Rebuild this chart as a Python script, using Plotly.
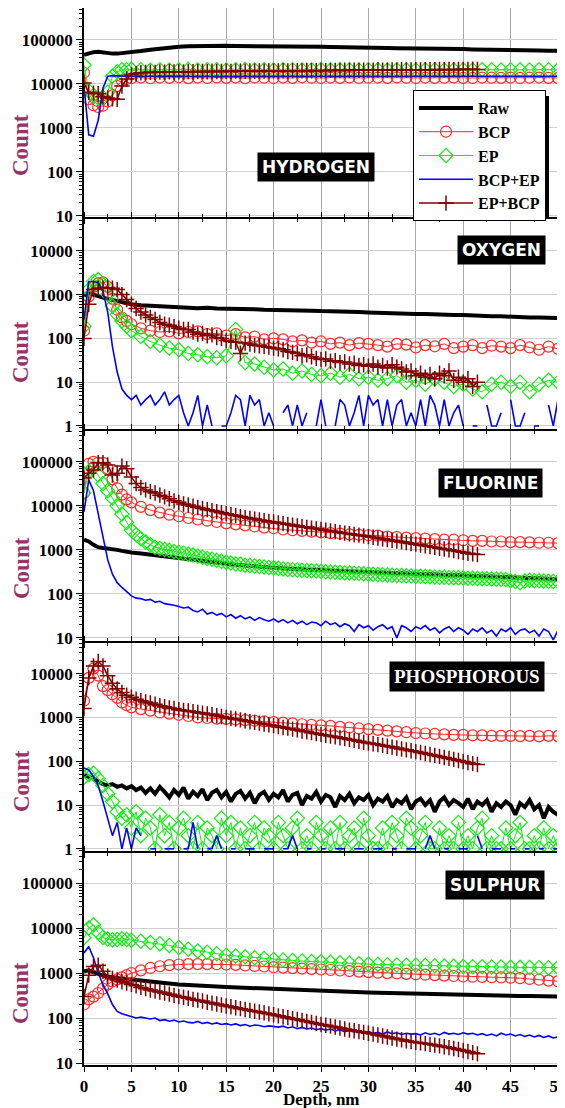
import plotly.graph_objects as go

# ---------------- depth grids (nm) ----------------
D_STD = [0, 0.5, 1, 1.5, 2, 2.5, 3, 3.5, 4, 4.5] + list(range(5, 51))
D_FINE = [i * 0.5 for i in range(101)]
D_EPB = [i * 0.5 for i in range(84)]

# ---------------- HYDROGEN ----------------
H_RAW = [46000, 50000, 53000, 54000, 52000, 50000, 49000, 49000, 50000, 51000,
         53000, 56000, 60000, 64000, 67000, 70000, 72000, 73000, 74000, 74000,
         74000, 73000, 73000, 72000, 72000, 72000, 71000, 71000, 70000, 70000,
         70000, 69000, 69000, 68000, 68000, 67000, 66000, 66000, 65000, 65000,
         64000, 64000, 63000, 63000, 62000, 62000, 61000, 61000, 60000, 60000,
         59000, 59000, 58000, 58000, 57000, 57000]
H_BCP = [18000, 4500, 3300, 3000, 3200, 4000, 5500, 9000, 12000, 13000,
         13500, 14000, 13500, 14000, 13800, 14200, 13600, 14000, 13700, 14100,
         13800, 14000, 13600, 14100, 13900, 13700, 14000, 13800, 14200, 13900,
         13700, 14000, 13800, 14100, 13700, 13900, 14000, 13800, 14100, 13900,
         13700, 14000, 13800, 13900, 14100, 13800, 13700, 14000, 13900, 13800,
         14000, 13700, 13900, 14000, 13800, 13700]
H_EP = [27000, 7000, 5500, 4800, 5000, 6500, 15000, 19000, 21000, 21000,
        21500, 21000, 20500, 21200, 20800, 21000, 21400, 20700, 21000, 21200,
        20800, 21000, 21300, 20900, 21100, 20800, 21000, 21200, 20900, 21000,
        21300, 20800, 21000, 21100, 20900, 21200, 21000, 20800, 21100, 21000,
        20900, 21200, 21000, 20800, 21100, 21000, 20900, 21200, 21000, 20800,
        21100, 21000, 20900, 21200, 21000, 21000]
H_BCPEP = [9000, 700, 650, 1500, 8000, 15000, 15500, 15200, 15000, 15000,
           15000, 15100, 15000, 14900, 15000, 15100, 15000, 14900, 15000, 15000,
           15100, 15000, 14900, 15000, 15000, 15100, 15000, 14900, 15000, 15000,
           15100, 15000, 14900, 15000, 15000, 15100, 15000, 14900, 15000, 15000,
           15100, 15000, 14900, 15000, 15000, 15100, 15000, 14900, 15000, 15000,
           15100, 15000, 14900, 15000, 15000, 15000]
H_EPBCP = [10500, 6500, 6200, 6000, 5200, 4800, 4600, 4500, 9000, 13000,
           16000, 17000, 18000, 18200, 18500, 18300, 18700, 18500, 18900, 18800,
           19000, 18800, 19200, 19000, 19100, 19300, 19000, 19400, 19200, 19300,
           19500, 19300, 19600, 19400, 19500, 19700, 19500, 19800, 19600, 19700,
           19900, 19700, 20000, 19800, 19900, 20100, 19900, 20200, 20000, 20100,
           20300, 20100, 20400, 20200, 20300, 20500, 20300, 20600, 20400, 20500,
           20700, 20500, 20800, 20600, 20700, 20900, 20700, 21000, 20800, 20900,
           21100, 20900, 21200, 21000, 21100, 21300, 21100, 21400, 21200, 21300,
           21500, 21300, 21600, 21400]

# ---------------- OXYGEN ----------------
O_RAW = [950, 1050, 1000, 900, 850, 800, 750, 700, 650, 620,
         600, 570, 550, 540, 520, 510, 500, 490, 500, 480,
         480, 470, 470, 460, 450, 450, 440, 440, 430, 430,
         420, 420, 410, 400, 400, 390, 380, 380, 370, 370,
         360, 360, 350, 350, 340, 340, 330, 330, 320, 320,
         310, 310, 300, 300, 290, 290]
O_BCP = [150, 900, 1500, 1800, 1900, 1500, 800, 450, 300, 250,
         210, 170, 150, 140, 145, 130, 140, 145, 125, 130,
         115, 125, 105, 110, 95, 100, 95, 85, 90, 80,
         85, 75, 80, 70, 78, 75, 70, 65, 75, 72,
         62, 70, 66, 75, 60, 65, 70, 60, 68, 65,
         60, 70, 62, 55, 65, 58]
O_EP = [190, 1300, 2000, 2200, 1700, 1000, 550, 350, 250, 190,
        150, 110, 85, 70, 60, 55, 45, 42, 38, 36,
        40, 160, 28, 26, 22, 19, 20, 16, 18, 15,
        14, 16, 13, 15, 12, 13, 11, 12, 14, 10,
        11, 9, 12, 10, 8, 9, 7, 6, 9, 10,
        8, 10, 6, 9, 11, 10]
O_BCPEP = [270, 2000, 2000, 1900, 1200, 400, 65, 17, 7, 5,
           4, 5, 3, 4, 5, 3, 4, 6, 3, 4,
           5, 2, 1, 2, 5, 1, 3, 1, None, 1,
           1, 2, 5, 4, 1, 5, 3, 4, 1, 2,
           1, None, 2, 3, 1, 3, 1, 2, None, 1,
           4, 1, None, 1, 4, 3, 1, 2, 5, 1,
           5, 3, 4, 1, 4, 1, 3, 4, 1, 2,
           1, 4, 1, 5, 3, 1, 4, 1, 2, 3,
           1, None, 1, 1, None, 3, 1, 1, 2, None,
           4, 1, 1, 2, None, 1, 1, None, 3, 1,
           4]
O_EPBCP = [100, 600, 1300, 1400, 1400, 1450, 1400, 1300, 1000, 770,
           600, 480, 400, 340, 300, 270, 230, 210, 200, 185,
           170, 160, 160, 140, 125, 130, 115, 120, 105, 100,
           90, 85, 82, 45, 78, 74, 70, 68, 65, 63,
           60, 58, 55, 50, 48, 45, 40, 42, 38, 35,
           33, 34, 30, 31, 28, 29, 26, 27, 24, 25,
           23, 26, 22, 24, 21, 25, 22, 20, 17, 18,
           14, 16, 13, 15, 12, 16, 14, 18, 11, 13,
           10, 12, 8, 10]

# ---------------- FLUORINE ----------------
F_RAW = [1700, 1550, 1300, 1150, 1100, 1080, 1050, 1000, 950, 900,
         870, 830, 780, 730, 690, 640, 600, 560, 530, 500,
         480, 460, 440, 420, 400, 390, 380, 370, 360, 350,
         340, 335, 330, 325, 320, 315, 310, 305, 300, 295,
         290, 285, 280, 275, 270, 265, 260, 255, 250, 245,
         240, 235, 230, 225, 220, 215]
F_BCP = [19700, 90000, 100000, 95000, 95000, 70000, 40000, 25000, 18000, 14000,
         12000, 9500, 8000, 7000, 6300, 5800, 5300, 4900, 4600, 4300,
         4000, 3800, 3600, 3400, 3200, 3100, 2900, 2800, 2700, 2600,
         2500, 2400, 2350, 2250, 2200, 2150, 2100, 2000, 1950, 1900,
         1850, 1800, 1750, 1700, 1700, 1650, 1600, 1600, 1550, 1550,
         1500, 1500, 1480, 1450, 1450, 1420]
F_EP = [19700, 60000, 73000, 50000, 32000, 22000, 15000, 10000, 6500, 4200,
        2800, 2200, 1800, 1500, 1300, 1150, 1080, 1020, 980, 920,
        880, 840, 800, 760, 720, 680, 640, 610, 580, 550,
        520, 500, 480, 470, 450, 440, 430, 420, 410, 400,
        390, 380, 370, 360, 355, 350, 345, 340, 335, 330,
        325, 320, 315, 310, 305, 300, 298, 295, 290, 285,
        282, 278, 275, 272, 268, 265, 262, 260, 257, 255,
        252, 250, 247, 245, 243, 240, 238, 236, 234, 232,
        230, 228, 226, 224, 222, 220, 218, 216, 214, 212,
        200, 190, 180, 195, 205, 200, 198, 196, 194, 192,
        190]
F_BCPEP = [7300, 39000, 22000, 7000, 2000, 600, 280, 180, 140, 110,
           90, 80, 78, 72, 75, 65, 68, 60, 58, 55,
           52, 48, 50, 42, 39, 45, 35, 38, 33, 36,
           30, 34, 28, 32, 27, 30, 25, 29, 26, 24,
           27, 23, 26, 22, 25, 21, 24, 20, 23, 22,
           19, 24, 20, 22, 18, 21, 19, 14, 20, 17,
           19, 15, 18, 20, 16, 18, 10, 19, 17, 14,
           18, 16, 19, 15, 17, 13, 16, 18, 14, 17,
           15, 12, 16, 14, 17, 13, 15, 11, 16, 14,
           17, 12, 15, 16, 13, 15, 11, 16, 14, 9,
           15]
F_EPBCP = [43000, 55000, 65000, 95000, 95000, 85000, 50000, 55000, 80000, 70000,
           45000, 32000, 26000, 23000, 21000, 19500, 17500, 16000, 14500, 13000,
           12000, 11000, 10500, 9800, 9200, 8700, 8200, 7800, 7400, 7000,
           6600, 6300, 6000, 5700, 5400, 5200, 5000, 4800, 4600, 4400,
           4300, 4100, 3950, 3800, 3650, 3500, 3350, 3250, 3100, 3000,
           2900, 2800, 2700, 2600, 2500, 2400, 2320, 2240, 2160, 2080,
           2000, 1930, 1850, 1780, 1710, 1650, 1580, 1520, 1460, 1400,
           1350, 1290, 1240, 1190, 1140, 1090, 1050, 1000, 960, 920,
           880, 840, 810, 780]

# ---------------- PHOSPHOROUS ----------------
P_RAW = [48, 45, 40, 35, 30, 28, 30, 26, 28, 24,
         27, 22, 25, 19, 24, 18, 26, 20, 15, 22,
         17, 25, 14, 20, 16, 23, 13, 19, 22, 15,
         20, 12, 18, 21, 14, 19, 11, 17, 20, 13,
         18, 15, 22, 12, 17, 19, 10, 16, 14, 20,
         12, 17, 15, 9, 16, 13, 18, 11, 15, 13,
         17, 10, 14, 12, 16, 9, 13, 11, 15, 8,
         12, 14, 10, 13, 7, 12, 15, 10, 13, 11,
         9, 14, 8, 12, 10, 13, 7, 11, 9, 12,
         10, 6, 11, 9, 13, 8, 10, 5, 9, 7,
         6]
P_BCP = [2400, 8000, 13000, 9000, 5200, 4200, 3400, 2800, 2200, 1900,
         1700, 1550, 1430, 1300, 1220, 1150, 1080, 1000, 970, 940,
         930, 900, 870, 840, 810, 780, 760, 730, 700, 680,
         660, 640, 610, 590, 560, 540, 520, 500, 480, 460,
         440, 430, 420, 410, 400, 400, 390, 390, 380, 380,
         380, 375, 380, 370, 380, 375]
P_EP = [43, 50, 53, 40, 28, 18, 12, 7, 5, 6,
        3, 7, 2, 5, 3, 1, 6, 2, 4, 1,
        3, 5, 2, 1, 4, 1, 3, 2, 1, 5,
        2, 4, 1, 3, 1, 2, 4, 1, 3, 2,
        1, 4, 2, 1, 3, 5, 1, 2, 1, 4,
        2, 1, 3, 1, 4, 1, 2, 3, 1, 5,
        2, 1, 1, 3, 1, 4, 2, 1, 5, 3,
        1, 2, 4, 1, 1, 3, 1, 2, 1, 4,
        1, 2, 1, 3, 5, 1, 2, 1, 1, 3,
        1, 2, 4, 1, 1, 2, 1, 3, 1, 2,
        1]
P_BCPEP = [70, 63, 45, 28, 12, 5, 2, 4, 1, 3,
           1, 3, 2, None, 1, 1, None, 1, 1, 1,
           None, 1, 1, 4, 1, None, 1, 1, 2, 1,
           None, 1, 1, None, 1, 1, 1, None, 1, 1,
           1, None, 1, 1, 2, 1, None, 1, 1, None,
           1, 1, None, 1, 1, 1, None, 1, 1, 1,
           None, 1, 1, 1, None, 1, 1, None, 1, 1,
           1, None, 1, 2, 1, None, 1, 1, None, 1,
           1, 1, None, 2, 1, None, 1, 1, 1, None,
           1, 1, None, 1, 1, None, 1, 1, None, 1,
           1]
P_EPBCP = [1600, 8000, 15000, 19000, 15000, 9000, 6000, 4500, 3700, 3200,
           2900, 2600, 2400, 2250, 2150, 2000, 1850, 1750, 1650, 1600,
           1500, 1450, 1400, 1350, 1300, 1250, 1200, 1150, 1100, 1050,
           1000, 960, 920, 880, 840, 800, 770, 740, 710, 680,
           650, 620, 590, 570, 540, 520, 490, 470, 450, 430,
           410, 390, 375, 360, 345, 330, 315, 300, 285, 270,
           260, 250, 240, 230, 220, 210, 200, 190, 182, 174,
           166, 158, 150, 143, 136, 129, 122, 116, 110, 104,
           98, 93, 88, 84]

# ---------------- SULPHUR ----------------
S_RAW = [1100, 1150, 1050, 950, 880, 840, 800, 760, 740, 720,
         720, 680, 640, 600, 580, 560, 540, 520, 510, 500,
         490, 480, 470, 460, 450, 440, 430, 420, 410, 400,
         395, 390, 385, 380, 375, 370, 365, 360, 355, 350,
         350, 345, 340, 340, 335, 335, 330, 325, 320, 320,
         315, 310, 310, 305, 300, 300]
S_BCP = [200, 260, 300, 360, 450, 560, 650, 720, 800, 900,
         1000, 1150, 1300, 1420, 1500, 1550, 1580, 1580, 1580, 1570,
         1550, 1520, 1480, 1440, 1400, 1350, 1320, 1290, 1260, 1230,
         1200, 1170, 1140, 1110, 1080, 1050, 1020, 1000, 980, 960,
         940, 920, 900, 880, 860, 840, 830, 820, 810, 800,
         790, 770, 740, 710, 680, 660]
S_EP = [6100, 10000, 11800, 8000, 6200, 5700, 5500, 5600, 5800, 5600,
        5400, 5100, 4800, 4500, 4100, 3700, 3400, 3100, 2900, 2700,
        2500, 2400, 2300, 2200, 2100, 2000, 1950, 1900, 1850, 1800,
        1780, 1740, 1700, 1660, 1620, 1580, 1560, 1540, 1520, 1500,
        1500, 1480, 1460, 1440, 1420, 1400, 1390, 1380, 1370, 1360,
        1350, 1340, 1330, 1320, 1310, 1330]
S_BCPEP = [2800, 3900, 2200, 1000, 550, 350, 200, 140, 125, 115,
           110, 100, 105, 98, 95, 100, 88, 92, 85, 90,
           82, 86, 80, 78, 84, 76, 80, 74, 78, 72,
           75, 70, 74, 68, 72, 66, 70, 68, 64, 67,
           65, 63, 66, 60, 64, 58, 62, 57, 60, 55,
           58, 54, 57, 52, 55, 50, 53, 49, 52, 47,
           50, 46, 48, 44, 49, 45, 47, 43, 46, 44,
           45, 42, 47, 43, 46, 42, 48, 44, 46, 43,
           47, 44, 46, 42, 45, 41, 44, 40, 46, 42,
           44, 40, 43, 39, 42, 38, 41, 37, 40, 36,
           38]
S_EPBCP = [300, 900, 1400, 1500, 1100, 850, 760, 700, 640, 600,
           560, 520, 480, 450, 420, 400, 380, 360, 340, 320,
           300, 290, 275, 260, 250, 240, 225, 215, 205, 195,
           185, 178, 170, 162, 155, 148, 142, 136, 130, 124,
           118, 112, 107, 102, 97, 93, 88, 84, 80, 76,
           72, 69, 66, 63, 60, 57, 54, 52, 50, 48,
           46, 44, 42, 40, 38, 36, 34, 33, 31, 30,
           29, 28, 27, 26, 25, 24, 23, 22, 21, 20,
           19, 18, 17, 16]

ELEMENTS = ["HYDROGEN", "OXYGEN", "FLUORINE", "PHOSPHOROUS", "SULPHUR"]
SERIES_NAMES = ["Raw", "BCP", "EP", "BCP+EP", "EP+BCP"]
X_TICKS = [0, 5, 10, 15, 20, 25, 30, 35, 40, 45, 50]

PANEL_DATA = [
    [(D_STD, H_RAW), (D_STD, H_BCP), (D_STD, H_EP), (D_STD, H_BCPEP), (D_EPB, H_EPBCP)],
    [(D_STD, O_RAW), (D_STD, O_BCP), (D_STD, O_EP), (D_FINE, O_BCPEP), (D_EPB, O_EPBCP)],
    [(D_STD, F_RAW), (D_STD, F_BCP), (D_FINE, F_EP), (D_FINE, F_BCPEP), (D_EPB, F_EPBCP)],
    [(D_FINE, P_RAW), (D_STD, P_BCP), (D_FINE, P_EP), (D_FINE, P_BCPEP), (D_EPB, P_EPBCP)],
    [(D_STD, S_RAW), (D_STD, S_BCP), (D_STD, S_EP), (D_FINE, S_BCPEP), (D_EPB, S_EPBCP)],
]

# ---------------- layout geometry ----------------
# The page body adds an 8px offset, so the figure is 8px smaller and all
# positions below are given in window pixels and shifted by OFF.
OFF = 8
W, H = 565 - OFF, 1108 - OFF
ML, MR, MT, MB = 84 - OFF, 7, 8 - OFF, 43
PW, PH = W - ML - MR, H - MT - MB


def ppy(p):
    return (H - MB - (p - OFF)) / PH


def ppx(p):
    return (p - OFF - ML) / PW


PANEL_PIX = [(8, 217), (219, 429), (431, 641), (643, 851), (853, 1065)]
Y_RANGES = [(0.977, 5.727), (-0.07, 4.727), (0.93, 5.70), (-0.05, 4.70), (0.956, 5.67)]
LABEL_POS = [(316, 167), (501, 250), (490, 483), (467, 676), (495, 885)]
LABEL_FONT = ["DejaVu Sans", "DejaVu Sans", "DejaVu Sans", "Liberation Serif", "DejaVu Sans"]
LABEL_SIZE = [17, 17, 17, 19, 17]
COUNT_Y = [145, 352, 568, 781, 993]

STYLES = [
    dict(mode="lines", line=dict(color="black", width=4)),
    dict(mode="lines+markers", line=dict(color="#ff2a2a", width=1),
         marker=dict(symbol="circle-open", size=11, color="#ff2a2a", line=dict(width=1.2))),
    dict(mode="lines+markers", line=dict(color="#11ee11", width=1),
         marker=dict(symbol="diamond-open", size=11, color="#11ee11", line=dict(width=1.2))),
    dict(mode="lines", line=dict(color="#0000ff", width=1.6)),
    dict(mode="lines+markers", line=dict(color="#800000", width=1.5),
         marker=dict(symbol="cross-thin-open", size=11, color="#800000", line=dict(width=1.5, color="#800000"))),
]

SERIF = "Liberation Serif"
fig = go.Figure()

for i, panel in enumerate(PANEL_DATA):
    for j, (xs, ys) in enumerate(panel):
        fig.add_trace(go.Scatter(
            x=xs, y=ys, name=SERIES_NAMES[j], legendgroup=SERIES_NAMES[j],
            showlegend=(i == 0), connectgaps=False,
            xaxis="x" if i == 0 else f"x{i+1}", yaxis="y" if i == 0 else f"y{i+1}",
            **STYLES[j]))

layout = dict(
    width=W, height=H, margin=dict(l=ML, r=MR, t=MT, b=MB, autoexpand=False),
    paper_bgcolor="white", plot_bgcolor="white", showlegend=True,
    legend=dict(x=ppx(413), y=ppy(90), xanchor="left", yanchor="top",
                bgcolor="white", bordercolor="black", borderwidth=1,
                font=dict(family=SERIF, size=16, color="black", weight="bold"),
                tracegroupgap=0, itemwidth=54),
)

annotations = []
shapes = []
for i in range(5):
    top, bot = PANEL_PIX[i]
    lo, hi = Y_RANGES[i]
    decades = [d for d in range(-1, 7) if lo - 1e-9 <= d <= hi]
    minor_vals = [m * 10 ** d for d in range(-1, 7) for m in range(2, 10)]
    xk = "xaxis" if i == 0 else f"xaxis{i+1}"
    yk = "yaxis" if i == 0 else f"yaxis{i+1}"
    ya = "y" if i == 0 else f"y{i+1}"
    xa = "x" if i == 0 else f"x{i+1}"
    layout[xk] = dict(
        domain=[0, 1], anchor=ya, range=[0, 50], tickmode="array", tickvals=X_TICKS,
        ticktext=[str(v) for v in X_TICKS], showticklabels=(i == 4), automargin=False,
        ticklabeloverflow="allow",
        ticks="outside", ticklen=5, tickwidth=1.3, tickcolor="black",
        minor=dict(ticks="outside", ticklen=3, tickwidth=1.2, tickcolor="black", dtick=2.5, tick0=0, showgrid=False),
        showgrid=True, gridcolor="#a8a8a8", gridwidth=1.2,
        showline=True, linecolor="black", linewidth=1.6, mirror="ticks",
        tickfont=dict(family=SERIF, size=17, color="black", weight="bold"), zeroline=False,
    )
    if i > 0:
        layout[xk]["matches"] = "x"
    layout[yk] = dict(
        domain=[ppy(bot), ppy(top)], anchor=xa, type="log", range=[lo, hi], automargin=False,
        tickmode="array", tickvals=[10 ** d for d in decades], ticktext=[str(10 ** d) for d in decades],
        ticks="outside", ticklen=6, tickwidth=1.3, tickcolor="black",
        minor=dict(tickmode="array", tickvals=minor_vals, ticks="outside", ticklen=3, tickwidth=1, tickcolor="black", showgrid=False),
        showgrid=True, gridcolor="#d0d0d0", gridwidth=1.2,
        showline=True, linecolor="black", linewidth=1.6, mirror="ticks",
        tickfont=dict(family=SERIF, size=17, color="black", weight="bold"), zeroline=False,
    )
    lx, ly = LABEL_POS[i]
    annotations.append(dict(
        text=ELEMENTS[i], x=ppx(lx), y=ppy(ly), xref="paper", yref="paper",
        xanchor="center", yanchor="middle", showarrow=False, bgcolor="black", borderpad=4,
        font=dict(family=LABEL_FONT[i], size=LABEL_SIZE[i], color="white", weight="bold")))
    annotations.append(dict(
        text="Count", x=ppx(21), y=ppy(COUNT_Y[i]), xref="paper", yref="paper",
        xanchor="center", yanchor="middle", showarrow=False, textangle=-90,
        font=dict(family=SERIF, size=23, color="#993366", weight="bold")))

annotations.append(dict(
    text="Depth, nm", x=0.5, y=ppy(1099), xref="paper", yref="paper",
    xanchor="center", yanchor="middle", showarrow=False,
    font=dict(family=SERIF, size=17, color="black", weight="bold")))

# legend drop shadow
shapes.append(dict(type="rect", xref="paper", yref="paper",
                   x0=ppx(420), x1=ppx(549), y0=ppy(217), y1=ppy(96),
                   fillcolor="black", line=dict(width=0), layer="above"))

layout["annotations"] = annotations
layout["shapes"] = shapes
fig.update_layout(**layout)
fig.write_html("out.html")
